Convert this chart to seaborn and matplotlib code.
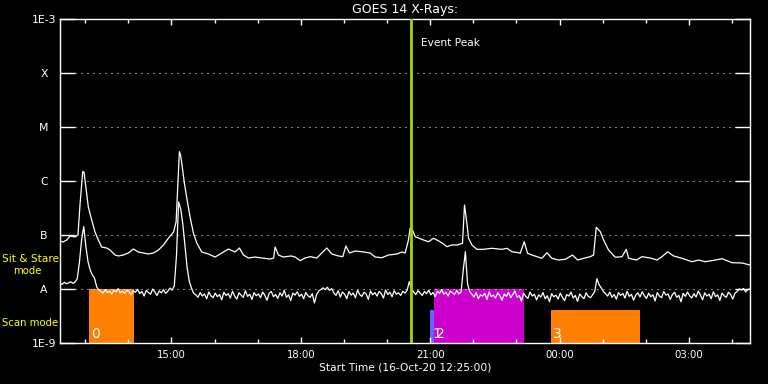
import numpy as np
import pandas as pd
import matplotlib
matplotlib.use("Agg")
import matplotlib.pyplot as plt
import matplotlib.dates as mdates
from matplotlib.ticker import NullLocator
import seaborn as sns

# ---------------- data ----------------
start = pd.Timestamp("2020-10-16 12:25")
end = pd.Timestamp("2020-10-17 04:25")

# long channel (1-8 A): minutes after start, flux in 1e-7 W/m^2
long_minutes = [0, 4.2, 9.3, 13.9, 20.9, 25.0, 27.8, 31.6, 33.4, 34.8,
                39.4, 44.1, 48.7, 53.3, 58.0, 65.0, 69.6, 76.6, 81.2, 88.1,
                95.1, 102.0, 109.0, 116.0, 123.0, 130.0, 137.0, 144.0, 151.0, 158.0,
                161.5, 163.6, 166.1, 167.7, 169.4, 173.0, 176.4, 181.0, 185.6, 190.3,
                197.2, 206.4, 215.8, 225.0, 234.3, 243.6, 249.6, 255.2, 262.1, 271.4,
                280.8, 292.3, 297.2, 299.3, 303.9, 310.8, 321.6, 327.1, 334.1, 341.0,
                348.0, 357.3, 364.3, 371.2, 378.2, 387.4, 393.5, 397.7, 402.7, 410.6,
                420.0, 431.5, 438.5, 447.8, 457.0, 468.7, 475.6, 480.2, 484.8, 487.2,
                490.4, 494.2, 498.8, 505.7, 512.7, 519.6, 526.6, 533.6, 538.3, 545.2,
                552.6, 560.0, 562.8, 566.1, 568.4, 573.1, 580.0, 589.2, 600.9, 614.8,
                621.8, 628.8, 638.0, 640.3, 645.9, 650.5, 656.6, 663.6, 670.5, 677.5,
                684.4, 693.6, 703.0, 713.1, 720.1, 728.5, 737.8, 742.4, 746.1, 751.7,
                756.3, 763.2, 772.6, 781.9, 787.9, 791.1, 801.8, 809.7, 821.3, 830.6,
                837.6, 845.4, 853.7, 865.4, 879.3, 888.5, 897.8, 911.8, 921.1, 935.0,
                948.9, 960.0]
long_flux_e7 = [0.774, 0.742, 0.808, 0.958, 0.918, 1.0, 3.59, 14.9, 14.7, 10.4,
                3.30, 1.896, 1.137, 0.808, 0.599, 0.574, 0.527, 0.426, 0.409, 0.426,
                0.464, 0.550, 0.484, 0.464, 0.445, 0.464, 0.527, 0.653, 0.880, 1.137,
                1.74, 6.81, 34.9, 30.4, 21.5, 9.18, 4.84, 2.15, 1.089, 0.711,
                0.484, 0.445, 0.391, 0.464, 0.550, 0.484, 0.574, 0.426, 0.375, 0.391,
                0.375, 0.359, 0.375, 0.599, 0.426, 0.391, 0.409, 0.391, 0.334, 0.375,
                0.397, 0.375, 0.464, 0.574, 0.445, 0.409, 0.397, 0.626, 0.464, 0.505,
                0.49, 0.464, 0.391, 0.38, 0.426, 0.445, 0.484, 0.464, 0.808, 1.348,
                1.238, 0.93, 0.88, 0.808, 0.75, 0.87, 0.78, 0.681, 0.607, 0.653,
                0.653, 0.702, 3.59, 1.647, 0.869, 0.653, 0.543, 0.543, 0.567, 0.543,
                0.567, 0.49, 0.47, 0.458, 0.75, 0.458, 0.426, 0.397, 0.37, 0.47,
                0.37, 0.344, 0.355, 0.426, 0.344, 0.37, 0.397, 0.426, 1.388, 1.151,
                0.808, 0.527, 0.387, 0.397, 0.543, 0.37, 0.344, 0.397, 0.375, 0.344,
                0.397, 0.49, 0.409, 0.37, 0.32, 0.344, 0.32, 0.344, 0.364, 0.307,
                0.303, 0.278]

# short channel (0.5-4 A): one value every 3 minutes, flux in 1e-8 W/m^2
short_step_min = 3
short_flux_e8 = [
    1.28, 1.22, 1.33, 1.25, 1.30, 1.36, 1.27, 1.35, 1.55,
    3.1, 8.0, 14.3, 6.1, 3.2, 2.25, 1.82, 1.6, 1.1, 0.95,
    0.90, 0.84, 0.97, 0.86, 0.92, 0.80, 0.95, 0.88, 1.02, 0.85, 0.91, 0.83, 0.96, 0.89, 0.78,
    0.93, 0.87, 0.99, 0.82, 0.90, 0.74, 0.94, 0.86, 0.80, 1.00, 0.88, 0.76, 0.92, 0.85, 0.97,
    0.83, 0.91, 1.04, 0.95, 1.15,
    4.0, 41.0, 30.0, 15.4, 6.1, 2.4, 1.37, 1.03, 0.83,
    0.78, 0.70, 0.86, 0.74, 0.81, 0.66, 0.88, 0.75, 0.69, 0.84,
    0.72, 0.79, 0.63, 0.87, 0.76, 0.82, 0.68, 0.91, 0.74, 0.65, 0.85, 0.77, 0.70, 0.93, 0.73,
    0.80, 0.64, 0.86, 0.75, 0.81,
    0.69, 0.88, 0.76, 0.62, 0.83, 0.90, 0.72, 0.79, 0.67, 0.85, 0.74, 0.95, 0.70, 0.78, 0.61,
    0.84, 0.77, 0.89, 0.73, 0.80,
    0.66, 0.86, 0.75, 0.70, 0.82, 0.55, 0.79, 0.92, 0.98,
    1.05, 0.97, 1.08, 0.94, 1.02,
    0.85, 0.76, 0.93, 0.71, 0.88, 0.80, 0.66, 0.90, 0.77, 0.84, 0.69, 0.95, 0.79, 0.73, 0.87,
    0.81, 0.64, 0.92, 0.78, 0.86,
    0.74, 0.90, 0.82, 0.68, 0.96, 0.79, 0.87, 0.72, 0.93, 0.80, 0.85, 0.76, 0.91, 0.84,
    0.95, 1.37, 1.0,
    0.88, 0.79, 0.93, 0.84, 0.76, 0.90, 0.82, 0.95, 0.78, 0.86, 0.72, 0.91, 0.83, 0.97, 0.80,
    0.87, 0.74, 0.92, 0.85, 0.79, 0.94, 0.81, 0.88,
    2.2, 4.9, 1.25, 0.9,
    0.80, 0.71, 0.86, 0.66, 0.78, 0.74, 0.83, 0.64, 0.89, 0.72, 0.77, 0.68, 0.85, 0.75, 0.62,
    0.81, 0.73, 0.87, 0.69, 0.79,
    0.92, 0.70, 0.76, 0.60, 0.84, 0.73, 0.67, 0.88, 0.74, 0.80, 0.63, 0.78, 0.71, 0.86, 0.66,
    0.75, 0.58, 0.82, 0.72, 0.77,
    0.65, 0.84, 0.70, 0.61, 0.79, 0.74, 0.88, 0.68, 0.76, 0.59, 0.81, 0.72, 0.66, 0.85, 0.73,
    0.69, 0.78, 0.90,
    1.55, 1.2, 1.05, 0.9,
    0.82, 0.74, 0.88, 0.70, 0.79, 0.65, 0.86, 0.76, 0.83, 0.68, 0.91, 0.73, 0.80, 0.62, 0.77,
    0.85, 0.71, 0.89, 0.75, 0.67,
    0.84, 0.72, 0.78, 0.60, 0.86, 0.74, 0.69, 0.90, 0.77, 0.81, 0.64, 0.79, 0.87, 0.70, 0.76,
    0.58, 0.83, 0.73, 0.88, 0.75,
    0.68, 0.82, 0.71, 0.92, 0.77, 0.63, 0.85, 0.74, 0.80, 0.66, 0.89, 0.72, 0.78, 0.61, 0.84,
    0.75, 0.70, 0.87, 0.79, 0.65, 0.83, 0.90,
    1.0, 0.96, 1.02, 0.88, 0.98, 1.0]

level_labels = ["1E-9", "A", "B", "C", "M", "X", "1E-3"]
level_values = [1e-9, 1e-8, 1e-7, 1e-6, 1e-5, 1e-4, 1e-3]
grid_levels = [1e-8, 1e-7, 1e-6, 1e-5, 1e-4]

scan_ids = ["0", "1", "2", "3"]
scan_start = ["2020-10-16 13:05", "2020-10-16 21:00", "2020-10-16 21:06", "2020-10-16 23:48"]
scan_end = ["2020-10-16 14:08", "2020-10-16 21:06", "2020-10-16 23:11", "2020-10-17 01:52"]
scan_top = [1e-8, 4.1e-9, 1e-8, 4.1e-9]
scan_colors = ["#ff8000", "#6464ff", "#cc00cc", "#ff8000"]

event_peak = pd.Timestamp("2020-10-16 20:34")

# ---------------- frames ----------------
long_df = pd.DataFrame({
    "time": start + pd.to_timedelta(long_minutes, unit="min"),
    "flux": np.array(long_flux_e7) * 1e-7,
})
short_df = pd.DataFrame({
    "time": start + pd.to_timedelta(np.arange(len(short_flux_e8)) * short_step_min, unit="min"),
    "flux": np.array(short_flux_e8) * 1e-8,
})

# ---------------- figure ----------------
W, H = 768, 384
fig = plt.figure(figsize=(W / 100, H / 100), dpi=100, facecolor="black")
ax = fig.add_axes([60 / W, 41 / H, 690 / W, 324 / H])
ax.set_facecolor("black")

# scan bars
for sid, s, e, top, c in zip(scan_ids, scan_start, scan_end, scan_top, scan_colors):
    s_num = mdates.date2num(pd.Timestamp(s))
    w = (pd.Timestamp(e) - pd.Timestamp(s)) / pd.Timedelta(days=1)
    ax.bar(s_num, top - 1e-9, width=w, bottom=1e-9, align="edge",
           color=c, linewidth=0, zorder=1)

for sid, s in zip(scan_ids, scan_start):
    ax.annotate(sid, xy=(mdates.date2num(pd.Timestamp(s)), 1e-9),
                xytext=(2, 5), textcoords="offset pixels",
                color="white", fontsize=10, ha="left", va="baseline", zorder=5)

sns.lineplot(data=long_df, x="time", y="flux", ax=ax, color="white",
             linewidth=0.9, estimator=None, legend=False, zorder=3)
sns.lineplot(data=short_df, x="time", y="flux", ax=ax, color="white",
             linewidth=0.9, estimator=None, legend=False, zorder=3)

ax.set_yscale("log")
ax.set_ylim(1e-9, 1e-3)
ax.set_xlim(start, end)

# dotted level lines
for v in grid_levels:
    ax.axhline(v, xmin=15 / 690, xmax=676 / 690, color="white",
               linewidth=0.72, linestyle=(0, (1, 5)), zorder=2)

# event peak
ax.axvline(event_peak, color="#a8d400", linewidth=2.0, zorder=4)
ax.annotate("Event Peak", xy=(event_peak, 1e-3), xytext=(10, -24),
            textcoords="offset pixels", color="white", fontsize=7.6,
            ha="left", va="center")

# axes styling
for sp in ax.spines.values():
    sp.set_color("white")
    sp.set_linewidth(1.0)

ax.set_yticks(level_values)
ax.set_yticklabels(level_labels)
ax.yaxis.set_minor_locator(NullLocator())
ax.tick_params(axis="y", which="major", direction="in", length=10.8, width=1.0,
               left=True, right=True, colors="white", labelsize=7.8, pad=11.5)
for lab in ax.get_yticklabels():
    lab.set_horizontalalignment("center")

ax.xaxis.set_major_locator(mdates.HourLocator(byhour=range(0, 24, 3)))
ax.xaxis.set_minor_locator(mdates.HourLocator())
ax.xaxis.set_major_formatter(mdates.DateFormatter("%H:%M"))
ax.tick_params(axis="x", which="major", direction="in", length=4.5, width=1.0,
               top=True, bottom=True, colors="white", labelsize=7.3, pad=5)
ax.tick_params(axis="x", which="minor", direction="in", length=3.0, width=1.0,
               top=True, bottom=True, colors="white")
ax.set_xlabel("")
ax.set_ylabel("")

# texts
fig.text(405 / W, 1 - 10 / H, "GOES 14 X-Rays:", color="white", fontsize=9,
         ha="center", va="center")
fig.text(405 / W, 1 - 367 / H, "Start Time (16-Oct-20 12:25:00)", color="white",
         fontsize=7.7, ha="center", va="center")
fig.text(2 / W, 1 - 259 / H, "Sit & Stare", color="#ffff00", fontsize=7.6,
         ha="left", va="center", zorder=10)
fig.text(13 / W, 1 - 271 / H, "mode", color="#ffff00", fontsize=7.3,
         ha="left", va="center", zorder=10)
fig.text(2 / W, 1 - 322.5 / H, "Scan mode", color="#ffff00", fontsize=7.3,
         ha="left", va="center", zorder=10)

fig.savefig("out.png", dpi=100, facecolor="black")
